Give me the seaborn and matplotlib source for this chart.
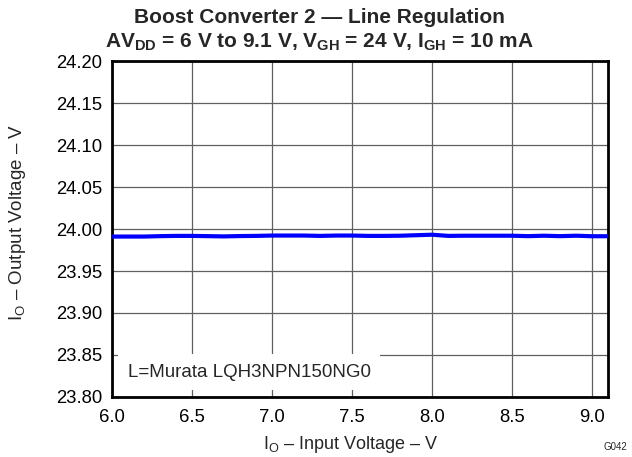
import matplotlib
matplotlib.use("Agg")
import matplotlib.pyplot as plt
import seaborn as sns
import pandas as pd

# Data
input_voltage = [6.0, 6.1, 6.2, 6.3, 6.4, 6.5, 6.6, 6.7, 6.8, 6.9,
                 7.0, 7.1, 7.2, 7.3, 7.4, 7.5, 7.6, 7.7, 7.8, 7.9,
                 8.0, 8.1, 8.2, 8.3, 8.4, 8.5, 8.6, 8.7, 8.8, 8.9,
                 9.0, 9.1]
output_voltage = [23.9910, 23.9910, 23.9910, 23.9915, 23.9918, 23.9918, 23.9915, 23.9912, 23.9916, 23.9918,
                  23.9922, 23.9922, 23.9922, 23.9918, 23.9922, 23.9922, 23.9918, 23.9918, 23.9920, 23.9926,
                  23.9932, 23.9918, 23.9920, 23.9920, 23.9920, 23.9920, 23.9915, 23.9920, 23.9915, 23.9920,
                  23.9914, 23.9914]
x_ticks = [6.0, 6.5, 7.0, 7.5, 8.0, 8.5, 9.0]
y_ticks = [23.80, 23.85, 23.90, 23.95, 24.00, 24.05, 24.10, 24.15, 24.20]

sns.set_theme(style="white")
plt.rcParams['font.family'] = ['Liberation Sans', 'DejaVu Sans']
plt.rcParams['mathtext.fontset'] = 'custom'
plt.rcParams['mathtext.rm'] = 'Liberation Sans'
plt.rcParams['mathtext.it'] = 'Liberation Sans'
plt.rcParams['mathtext.bf'] = 'Liberation Sans:bold'

df = pd.DataFrame({"vin": input_voltage, "vout": output_voltage})

fig = plt.figure(figsize=(6.32, 4.57), dpi=100)
ax = fig.add_axes([0.1772, 0.1313, 0.785, 0.7352])

sns.lineplot(data=df, x="vin", y="vout", ax=ax, color="#0000ff", linewidth=3.0, zorder=3)

ax.set_xlim(6.0, 9.1)
ax.set_ylim(23.80, 24.20)
ax.set_xticks(x_ticks)
ax.set_yticks(y_ticks)
ax.set_xticklabels([f"{v:.1f}" for v in x_ticks], fontsize=13.3)
ax.set_yticklabels([f"{v:.2f}" for v in y_ticks], fontsize=13.3)
ax.tick_params(axis="x", length=0, pad=9, colors="black")
ax.tick_params(axis="y", length=0, pad=7, colors="black")
ax.grid(True, color="#606060", linewidth=0.9)
ax.set_axisbelow(True)
for s in ax.spines.values():
    s.set_color("black")
    s.set_linewidth(2.0)

ax.set_xlabel(r"I$_\mathrm{O}$ – Input Voltage – V", fontsize=13)
ax.set_ylabel(r"I$_\mathrm{O}$ – Output Voltage – V", fontsize=13.5)
ax.xaxis.set_label_coords(0.482, -0.11)
ax.yaxis.set_label_coords(-0.17, 0.52)

fig.text(0.506, 0.962, "Boost Converter 2 — Line Regulation", ha="center", va="center",
         fontsize=15, fontweight="bold")
fig.text(0.506, 0.907, r"AV$_\mathbf{DD}$ = 6 V to 9.1 V, V$_\mathbf{GH}$ = 24 V, I$_\mathbf{GH}$ = 10 mA",
         ha="center", va="center", fontsize=15, fontweight="bold")

ax.text(0.032, 0.06, "L=Murata LQH3NPN150NG0", transform=ax.transAxes, fontsize=13.5,
        ha="left", va="baseline", zorder=5,
        bbox=dict(facecolor="white", edgecolor="none", boxstyle="square,pad=0.5"))

fig.text(0.993, 0.012, "G042", ha="right", va="bottom", fontsize=7)

fig.savefig("out.png", dpi=100)
